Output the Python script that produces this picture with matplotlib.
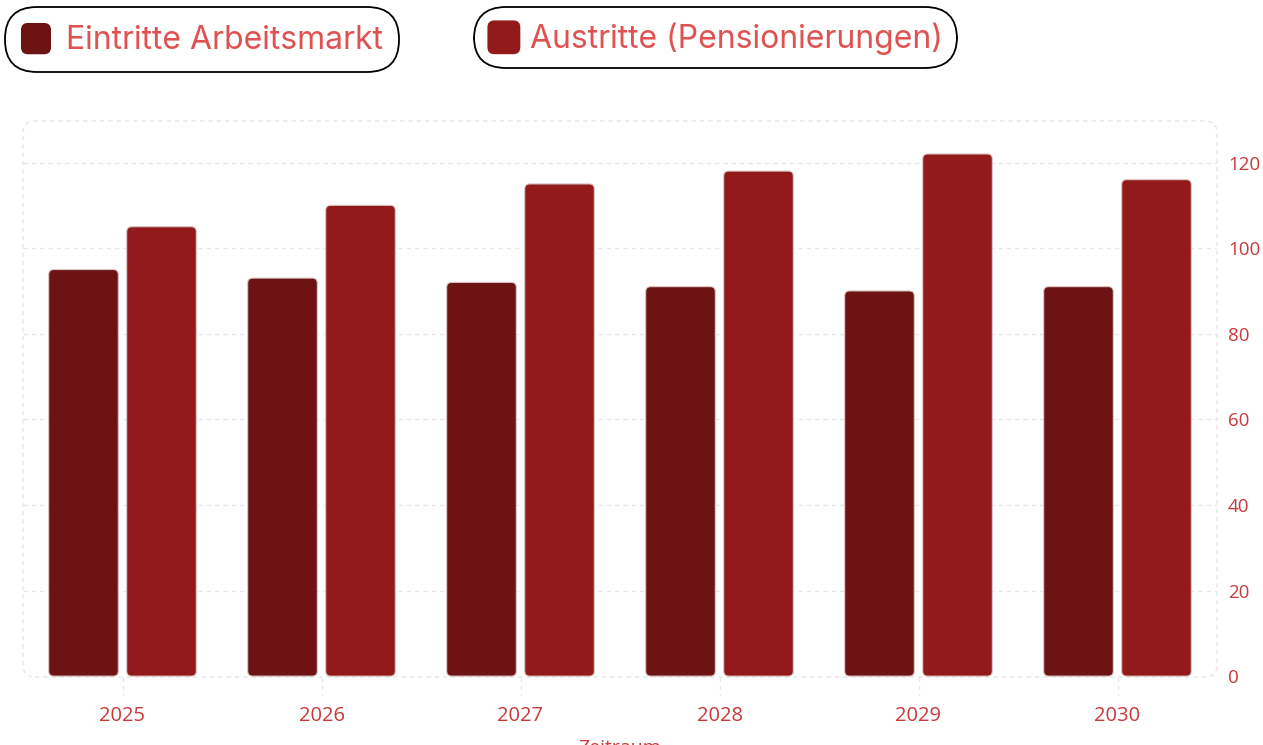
import matplotlib
matplotlib.use("Agg")
import matplotlib.pyplot as plt
from matplotlib.patches import FancyBboxPatch, Patch
from matplotlib.legend_handler import HandlerPatch
from matplotlib.transforms import blended_transform_factory

# data
jahre = ["2025", "2026", "2027", "2028", "2029", "2030"]
eintritte = [95, 93, 92, 91, 90, 91]
austritte = [105, 110, 115, 118, 122, 116]
y_ticks = [0, 20, 40, 60, 80, 100, 120]

c_dunkel = "#6e1313"
c_rot = "#931a1a"
c_text = "#e05252"
c_tick = "#c73a3a"
c_grid = "#e6e6e6"

W, H = 1263, 745
fig = plt.figure(figsize=(W / 100, H / 100), dpi=100)
ax = fig.add_axes([23 / W, 1 - 677 / H, (1217 - 23) / W, (677 - 121) / H])

x = list(range(len(jahre)))
bw = 0.35
off = 0.196
b1 = ax.bar([i - off for i in x], eintritte, bw, color=c_dunkel)
b2 = ax.bar([i + off for i in x], austritte, bw, color=c_rot)

ax.set_xlim(-0.5, len(jahre) - 0.5)
ax.set_ylim(-0.2, 129.7)

# rounded bar corners: swap rectangles for fancy boxes
ax_w = (1217 - 23)
ax_h = (677 - 121)
xpp = (len(jahre)) / ax_w
ypp = 129.9 / ax_h
for bars in (b1, b2):
    for r in bars:
        fb = FancyBboxPatch((r.get_x(), r.get_y()), r.get_width(), r.get_height(),
                            boxstyle="round,pad=0,rounding_size=%f" % (5 * xpp),
                            mutation_aspect=ypp / xpp,
                            facecolor=r.get_facecolor(), edgecolor="#dcc8c8",
                            linewidth=0.8, zorder=2)
        r.set_visible(False)
        ax.add_patch(fb)

for s in ax.spines.values():
    s.set_visible(False)

# dashed rounded frame around plot area
frame = FancyBboxPatch((0, 0), 1, 1, transform=ax.transAxes,
                       boxstyle="round,pad=0,rounding_size=%f" % (12 / ax_w),
                       mutation_aspect=ax_w / ax_h,
                       facecolor="none", edgecolor=c_grid, linewidth=1.0,
                       linestyle=(0, (3, 3)), clip_on=False, zorder=0)
ax.add_patch(frame)

ax.set_yticks(y_ticks)
for v in y_ticks[1:]:
    ax.axhline(v, color=c_grid, lw=1.0, ls=(0, (3, 3)), zorder=0)

ax.yaxis.tick_right()
ax.set_xticks(x)
ax.set_xticklabels(jahre)
for lab in ax.get_xticklabels():
    lab.set_fontfamily("Open Sans")
    lab.set_fontsize(14.5)
    lab.set_color(c_tick)
for lab in ax.get_yticklabels():
    lab.set_fontfamily("Open Sans")
    lab.set_fontsize(13.5)
    lab.set_color(c_tick)
ax.tick_params(axis="x", length=0, pad=21)
ax.tick_params(axis="y", length=0, pad=8)

# dashed x tick marks below the frame
tr = blended_transform_factory(ax.transData, ax.transAxes)
for i in x:
    ax.plot([i, i], [0, -0.032], color=c_grid, lw=1.0, ls=(0, (3, 3)),
            transform=tr, clip_on=False)

ax.set_xlabel("Zeitraum", fontfamily="Open Sans", fontsize=14, color=c_tick, labelpad=9)


def rund(legend, orig_handle, xdescent, ydescent, width, height, fontsize):
    return FancyBboxPatch((-xdescent, -ydescent), width, height,
                          boxstyle="round,pad=0,rounding_size=5")


# legends as two pill shaped boxes
def pill(handle, label, x0, y0, hl, hh, tp, bp):
    leg = fig.legend(handles=[handle], labels=[label], loc="upper left",
                     bbox_to_anchor=(x0 / W, 1 - y0 / H),
                     prop={"family": "Inter", "size": 23},
                     handlelength=hl, handleheight=hh, handletextpad=tp,
                     borderpad=bp, borderaxespad=0, frameon=True, fancybox=True,
                     handler_map={Patch: HandlerPatch(patch_func=rund)})
    fr = leg.get_frame()
    fr.set_boxstyle("round,pad=0,rounding_size=1.0")
    fr.set_edgecolor("black")
    fr.set_linewidth(1.3)
    fr.set_facecolor("white")
    fr.set_alpha(1)
    for t in leg.get_texts():
        t.set_color(c_text)
    return leg


h1 = Patch(facecolor=c_dunkel, edgecolor="none")
h2 = Patch(facecolor=c_rot, edgecolor="none")
pill(h1, "Eintritte Arbeitsmarkt", 5, 7, 0.94, 1.13, 0.47, 0.5)
pill(h2, "Austritte (Pensionierungen)", 474, 7, 1.03, 1.25, 0.31, 0.42)

fig.savefig("out.png", dpi=100)
